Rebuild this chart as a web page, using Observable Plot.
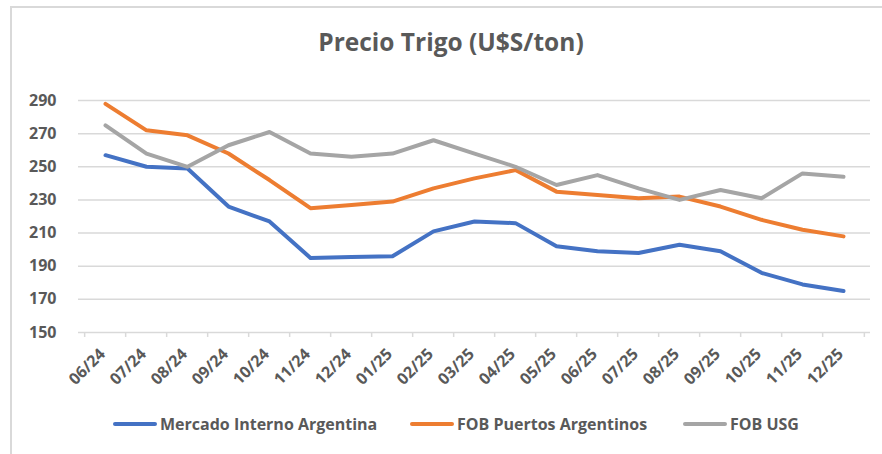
<!DOCTYPE html>
<html>
<head>
<meta charset="utf-8">
<script src="https://cdn.jsdelivr.net/npm/d3@7"></script>
<script src="https://cdn.jsdelivr.net/npm/@observablehq/plot@0.6"></script>
<style>
  html, body { margin: 0; padding: 0; background: #fff; overflow: hidden; }
  body { width: 882px; height: 454px; position: relative; font-family: "Open Sans", sans-serif; }
  #frame { position: absolute; left: 10px; top: 6px; width: 900px; height: 480px; border: 2px solid #d9d9d9; box-sizing: border-box; }
  #title { position: absolute; left: 0; width: 902px; top: 26px; text-align: center; font-size: 24.5px; font-weight: bold; color: #595959; line-height: 32px; }
  #chart { position: absolute; left: 0; top: 0; }
  .leg { position: absolute; top: 413px; height: 22px; display: flex; align-items: center; font-size: 16px; font-weight: bold; color: #595959; white-space: nowrap; }
  .leg span.sw { display: inline-block; width: 44px; height: 4px; border-radius: 2px; margin-right: 3px; }
</style>
</head>
<body>
<div id="frame"></div>
<div id="title">Precio Trigo (U$S/ton)</div>
<div id="chart"></div>
<div id="legend"></div>
<script>
const months = ["06/24","07/24","08/24","09/24","10/24","11/24","12/24","01/25","02/25","03/25","04/25","05/25","06/25","07/25","08/25","09/25","10/25","11/25","12/25"];
const seriesNames = ["Mercado Interno Argentina", "FOB Puertos Argentinos", "FOB USG"];
const mercadoInterno = [257, 250, 249, 226, 217, 195, 195.5, 196, 211, 217, 216, 202, 199, 198, 203, 199, 186, 179, 175];
const fobPuertos = [288, 272, 269, 258, 242, 225, 227, 229, 237, 243, 248, 235, 233, 231, 232, 226, 218, 212, 208];
const fobUSG = [275, 258, 250, 263, 271, 258, 256, 258, 266, 258, 250, 239, 245, 237, 230, 236, 231, 246, 244];
const yTicks = [150, 170, 190, 210, 230, 250, 270, 290];
const colors = ["#4472C4", "#ED7D31", "#A5A5A5"];

const valuesBySeries = [mercadoInterno, fobPuertos, fobUSG];
const data = [];
seriesNames.forEach((s, si) => months.forEach((m, i) => data.push({serie: s, mes: m, valor: valuesBySeries[si][i]})));

const W = 882, H = 454, mL = 78, mR = 12, mT = 100, mB = 122;
const step = (W - mL - mR) / months.length;

const chart = Plot.plot({
  width: W, height: H,
  marginLeft: mL, marginRight: mR, marginTop: mT, marginBottom: mB,
  style: {fontFamily: "'Open Sans', sans-serif", background: "transparent", overflow: "visible"},
  x: {type: "point", domain: months, padding: 0.5},
  y: {domain: [150, 290], ticks: yTicks},
  color: {domain: seriesNames, range: colors},
  marks: [
    Plot.gridY(yTicks, {stroke: "#d9d9d9", strokeOpacity: 1, strokeWidth: 1.5}),
    Plot.ruleX(months, {x: d => d, dx: -step / 2, y1: 150, y2: 147, stroke: "#d9d9d9", strokeWidth: 1.5}),
    Plot.ruleX(months.slice(-1), {x: d => d, dx: step / 2, y1: 150, y2: 147, stroke: "#d9d9d9", strokeWidth: 1.5}),
    Plot.axisY(yTicks, {tickSize: 0, tickPadding: 22, fontSize: 16, fontWeight: "bold", color: "#595959", label: null}),
    Plot.axisX({tickSize: 0, tickRotate: -45, tickPadding: 19, dx: -3, fontSize: 16, fontWeight: "bold", color: "#595959", label: null}),
    Plot.line(data, {x: "mes", y: "valor", z: "serie", stroke: "serie", strokeWidth: 4, strokeLinejoin: "round", strokeLinecap: "round"})
  ]
});
document.getElementById("chart").appendChild(chart);

const legendLeft = [113, 410, 683];
const leg = document.getElementById("legend");
seriesNames.forEach((s, i) => {
  const d = document.createElement("div");
  d.className = "leg";
  d.style.left = legendLeft[i] + "px";
  d.innerHTML = `<span class="sw" style="background:${colors[i]}"></span>${s}`;
  leg.appendChild(d);
});
</script>
</body>
</html>
